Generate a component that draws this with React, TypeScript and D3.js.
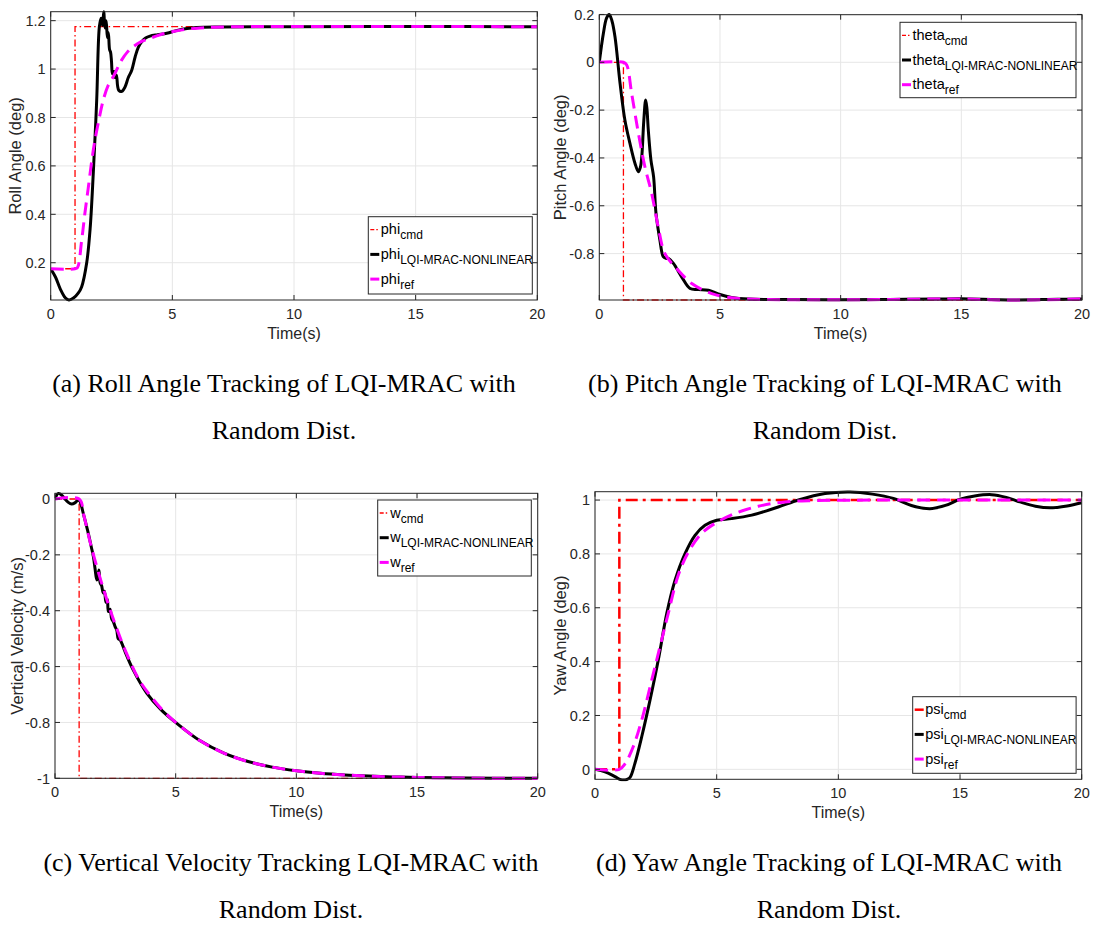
import React from 'react';
import * as d3 from 'd3';

type Pt = [number, number];

// time axis shared by all four plots
const timeTicks = [0, 5, 10, 15, 20];

// (a) roll
const rollTicks = [0.2, 0.4, 0.6, 0.8, 1, 1.2];
const rollCmd: Pt[] = [[0, 0.175], [1, 0.175], [1, 1.175], [20, 1.175]];
const rollAct: Pt[] = [
  [0, 0.175], [0.2, 0.14], [0.4, 0.09], [0.6, 0.055], [0.75, 0.046], [0.95, 0.055], [1.13, 0.074],
  [1.27, 0.1], [1.48, 0.2], [1.62, 0.34], [1.75, 0.57], [1.89, 0.87], [2.0, 1.175], [2.07, 1.21],
  [2.13, 1.18], [2.18, 1.237], [2.23, 1.17], [2.28, 1.2], [2.33, 1.13], [2.37, 1.15], [2.42, 1.08],
  [2.46, 1.07], [2.5, 1.03], [2.54, 0.98], [2.6, 0.99], [2.65, 0.965], [2.7, 0.975], [2.75, 0.93],
  [2.8, 0.912], [2.92, 0.908], [3.05, 0.925], [3.19, 0.965], [3.33, 0.995], [3.47, 1.05],
  [3.6, 1.09], [3.74, 1.113], [3.9, 1.128], [4.08, 1.136], [4.4, 1.142], [4.77, 1.148],
  [5.2, 1.16], [5.6, 1.168], [6.0, 1.172], [7, 1.174], [10, 1.175], [15, 1.176], [20, 1.175],
];
const rollRef: Pt[] = [
  [0, 0.175], [1, 0.175], [1.1, 0.18], [1.27, 0.29], [1.4, 0.4], [1.55, 0.514], [1.7, 0.63],
  [1.82, 0.707], [2.0, 0.8], [2.16, 0.872], [2.35, 0.93], [2.57, 0.968], [2.75, 1.005],
  [2.92, 1.038], [3.15, 1.07], [3.4, 1.093], [3.7, 1.112], [4.08, 1.127], [4.5, 1.142],
  [5.04, 1.155], [5.6, 1.165], [6.14, 1.17], [7, 1.174], [20, 1.175],
];

// (b) pitch
const pitchTicks = [-0.8, -0.6, -0.4, -0.2, 0, 0.2];
const pitchCmd: Pt[] = [[0, 0], [1, 0], [1, -0.994], [20, -0.994]];
const pitchAct: Pt[] = [
  [0, 0], [0.17, 0.121], [0.3, 0.185], [0.41, 0.2], [0.52, 0.175], [0.65, 0.107], [0.86, -0.088],
  [1.06, -0.241], [1.27, -0.339], [1.48, -0.423], [1.62, -0.458], [1.7, -0.44], [1.76, -0.395],
  [1.84, -0.25], [1.92, -0.158], [1.97, -0.19], [2.03, -0.283], [2.14, -0.409], [2.25, -0.479],
  [2.35, -0.632], [2.51, -0.743], [2.65, -0.813], [2.76, -0.82], [2.86, -0.82], [3.07, -0.841],
  [3.41, -0.897], [3.76, -0.946], [4.1, -0.95], [4.52, -0.953], [4.93, -0.969], [5.48, -0.983],
  [6.2, -0.99], [8, -0.992], [10, -0.993], [12, -0.992], [14, -0.99], [15, -0.989], [17, -0.994],
  [19, -0.991], [20, -0.99],
];
const pitchRef: Pt[] = [
  [0, 0], [1, 0], [1.13, -0.01], [1.34, -0.13], [1.62, -0.297], [1.89, -0.437], [2.17, -0.548],
  [2.44, -0.688], [2.72, -0.8], [3.2, -0.862], [3.83, -0.925], [4.66, -0.967], [5.48, -0.985],
  [6.5, -0.991], [10, -0.993], [15, -0.99], [17, -0.994], [20, -0.99],
];

// (c) vertical velocity
const velTicks = [-1, -0.8, -0.6, -0.4, -0.2, 0];
const velCmd: Pt[] = [[0, 0], [1, 0], [1, -1], [20, -1]];
const velAct: Pt[] = [
  [0, 0], [0.14, 0.02], [0.3, 0.012], [0.41, 0.0], [0.55, -0.012], [0.69, -0.018], [0.82, -0.014],
  [0.92, -0.006], [1.0, -0.003], [1.08, -0.02], [1.17, -0.051], [1.38, -0.123], [1.5, -0.17],
  [1.59, -0.206], [1.66, -0.25], [1.73, -0.29], [1.77, -0.28], [1.82, -0.254], [1.87, -0.3],
  [1.93, -0.31], [2.0, -0.337], [2.05, -0.33], [2.11, -0.37], [2.17, -0.36], [2.21, -0.403],
  [2.28, -0.395], [2.35, -0.43], [2.42, -0.44], [2.49, -0.457], [2.56, -0.47], [2.62, -0.5],
  [2.7, -0.505], [2.76, -0.515], [2.83, -0.53], [2.9, -0.546], [3.24, -0.612], [3.8, -0.695],
  [4.4, -0.755], [5, -0.8], [6, -0.865], [7, -0.91], [8, -0.94], [9, -0.96], [10, -0.973],
  [11, -0.982], [12, -0.988], [13, -0.992], [14, -0.995], [15, -0.997], [17, -0.999], [20, -1],
];
const velRef: Pt[] = [
  [0, 0], [1, 0], [1.2, -0.06], [1.5, -0.17], [2, -0.32], [2.5, -0.45], [3, -0.56], [3.5, -0.65],
  [4, -0.71], [4.5, -0.76], [5, -0.8], [6, -0.865], [7, -0.91], [8, -0.94], [9, -0.96],
  [10, -0.973], [11, -0.982], [12, -0.988], [13, -0.992], [14, -0.995], [15, -0.997],
  [17, -0.999], [20, -1],
];

// (d) yaw
const yawTicks = [0, 0.2, 0.4, 0.6, 0.8, 1];
const yawCmd: Pt[] = [[0, 0], [1, 0], [1, 1], [20, 1]];
const yawAct: Pt[] = [
  [0, 0], [0.41, -0.009], [0.82, -0.027], [1.05, -0.038], [1.19, -0.04], [1.32, -0.037],
  [1.44, -0.03], [1.64, 0.022], [1.92, 0.121], [2.26, 0.257], [2.6, 0.406], [2.95, 0.579],
  [3.29, 0.702], [3.7, 0.801], [4.11, 0.869], [4.52, 0.906], [5.0, 0.925], [5.62, 0.931],
  [6.44, 0.944], [7.53, 0.974], [8.36, 1.0], [9.45, 1.024], [10.48, 1.03], [11.4, 1.022],
  [12.26, 1.006], [13.0, 0.98], [13.76, 0.968], [14.4, 0.98], [15.0, 1.003], [15.6, 1.015],
  [16.3, 1.02], [16.9, 1.01], [17.46, 0.993], [18.1, 0.977], [18.7, 0.971], [19.4, 0.978], [20, 0.99],
];
const yawRef: Pt[] = [
  [0, 0], [1, 0], [1.23, 0.02], [1.57, 0.084], [1.92, 0.183], [2.33, 0.331], [2.67, 0.455],
  [3.01, 0.579], [3.42, 0.721], [3.84, 0.807], [4.38, 0.876], [4.93, 0.913], [5.75, 0.95],
  [6.71, 0.977], [7.81, 0.993], [9, 0.998], [12, 1.0], [20, 1.0],
];

const AXIS = '#262626';
const GRID = '#e6e6e6';
const SANS = 'Liberation Sans, Arial, sans-serif';
const SERIF = 'Liberation Serif, Times New Roman, serif';

const panels = [
  {
    id: 'a', box: { l: 50.7, t: 11.7, r: 537.3, b: 300 }, yDomain: [0.046, 1.237], yTicks: rollTicks,
    yTitle: 'Roll Angle (deg)', yTitleX: 15, sym: 'phi', cmd: rollCmd, act: rollAct, ref: rollRef,
    legend: { x: 368.3, y: 216.7, w: 164, h: 77.3 }, cmdWidth: 1.3, cmdDash: '7,3,1.5,3',
    caption: '(a) Roll Angle Tracking of LQI-MRAC with', capX: 284, capY: 392,
  },
  {
    id: 'b', box: { l: 599.3, t: 14.7, r: 1082, b: 300 }, yDomain: [-0.994, 0.199], yTicks: pitchTicks,
    yTitle: 'Pitch Angle (deg)', yTitleX: 560.7, sym: 'theta', cmd: pitchCmd, act: pitchAct, ref: pitchRef,
    legend: { x: 900, y: 22.3, w: 176, h: 75.4 }, cmdWidth: 1.3, cmdDash: '7,3,1.5,3',
    caption: '(b) Pitch Angle Tracking of LQI-MRAC with', capX: 825, capY: 392,
  },
  {
    id: 'c', box: { l: 55, t: 493.3, r: 537.7, b: 778.3 }, yDomain: [-1, 0.0204], yTicks: velTicks,
    yTitle: 'Vertical Velocity (m/s)', yTitleX: 17, sym: 'w', cmd: velCmd, act: velAct, ref: velRef,
    legend: { x: 377.7, y: 500, w: 153.6, h: 76 }, cmdWidth: 1.3, cmdDash: '7,3,1.5,3',
    caption: '(c) Vertical Velocity Tracking LQI-MRAC with', capX: 291, capY: 871,
  },
  {
    id: 'd', box: { l: 595, t: 491.7, r: 1081.7, b: 779.3 }, yDomain: [-0.037, 1.031], yTicks: yawTicks,
    yTitle: 'Yaw Angle (deg)', yTitleX: 560, sym: 'psi', cmd: yawCmd, act: yawAct, ref: yawRef,
    legend: { x: 912.7, y: 696.7, w: 163.4, h: 76.6 }, cmdWidth: 2.5, cmdDash: '12,5,3,5',
    caption: '(d) Yaw Angle Tracking of LQI-MRAC with', capX: 829, capY: 871,
  },
];

function Panel({ p }: { p: any }) {
  const { box } = p;
  const x = d3.scaleLinear().domain([0, 20]).range([box.l, box.r]);
  const y = d3.scaleLinear().domain(p.yDomain).range([box.b, box.t]);
  const smooth = d3.line<Pt>().x(d => x(d[0])).y(d => y(d[1])).curve(d3.curveCatmullRom.alpha(0.5));
  const straight = d3.line<Pt>().x(d => x(d[0])).y(d => y(d[1]));
  const tl = 5;
  const clipId = 'clip-' + p.id;
  const lg = p.legend;
  const rows = [
    { sub: 'cmd', color: '#ff0000', w: p.id === 'd' ? 2.5 : 1.3, dash: p.id === 'd' ? undefined : '4,2,1.5,2' },
    { sub: 'LQI-MRAC-NONLINEAR', color: '#000', w: 3, dash: undefined },
    { sub: 'ref', color: '#ff00ff', w: 3, dash: undefined },
  ];
  return (
    <g>
      <defs>
        <clipPath id={clipId}>
          <rect x={box.l} y={box.t - 2} width={box.r - box.l} height={box.b - box.t + 4} />
        </clipPath>
      </defs>
      <rect x={box.l} y={box.t} width={box.r - box.l} height={box.b - box.t} fill="#fff" />
      {/* grid */}
      {timeTicks.map(t => (
        <line key={'gx' + t} x1={x(t)} x2={x(t)} y1={box.t} y2={box.b} stroke={GRID} strokeWidth={1} />
      ))}
      {p.yTicks.map((v: number) => (
        <line key={'gy' + v} x1={box.l} x2={box.r} y1={y(v)} y2={y(v)} stroke={GRID} strokeWidth={1} />
      ))}
      {/* series */}
      <g clipPath={`url(#${clipId})`}>
        <path d={straight(p.cmd) || ''} fill="none" stroke="#ff0000" strokeWidth={p.cmdWidth} strokeDasharray={p.cmdDash} />
        <path d={smooth(p.act) || ''} fill="none" stroke="#000" strokeWidth={3} strokeLinejoin="round" />
        <path d={smooth(p.ref) || ''} fill="none" stroke="#ff00ff" strokeWidth={3} strokeDasharray="13,7" />
      </g>
      {/* box + ticks */}
      <rect x={box.l} y={box.t} width={box.r - box.l} height={box.b - box.t} fill="none" stroke={AXIS} strokeWidth={1} />
      {timeTicks.map(t => (
        <g key={'tx' + t}>
          <line x1={x(t)} x2={x(t)} y1={box.b} y2={box.b - tl} stroke={AXIS} />
          <line x1={x(t)} x2={x(t)} y1={box.t} y2={box.t + tl} stroke={AXIS} />
          <text x={x(t)} y={box.b + 18.5} textAnchor="middle" fontSize={14.5} fontFamily={SANS} fill={AXIS}>{t}</text>
        </g>
      ))}
      {p.yTicks.map((v: number) => (
        <g key={'ty' + v}>
          <line x1={box.l} x2={box.l + tl} y1={y(v)} y2={y(v)} stroke={AXIS} />
          <line x1={box.r} x2={box.r - tl} y1={y(v)} y2={y(v)} stroke={AXIS} />
          <text x={box.l - 5} y={y(v) + 5.2} textAnchor="end" fontSize={14.5} fontFamily={SANS} fill={AXIS}>{String(v)}</text>
        </g>
      ))}
      <text x={(box.l + box.r) / 2} y={box.b + 39} textAnchor="middle" fontSize={16} fontFamily={SANS} fill={AXIS}>Time(s)</text>
      <text transform={`translate(${p.yTitleX},${(box.t + box.b) / 2}) rotate(-90)`} dy="0.35em" textAnchor="middle"
        fontSize={16.5} fontFamily={SANS} fill={AXIS}>{p.yTitle}</text>
      {/* legend */}
      <rect x={lg.x} y={lg.y} width={lg.w} height={lg.h} fill="#fff" stroke={AXIS} strokeWidth={1} />
      {rows.map((r, i) => {
        const base = lg.y + 17.5 + i * 24.7;
        return (
          <g key={r.sub}>
            <line x1={lg.x + 2} x2={lg.x + 11} y1={base - 4.5} y2={base - 4.5} stroke={r.color} strokeWidth={r.w} strokeDasharray={r.dash} />
            <text x={lg.x + 12.5} y={base} fontSize={14.5} fontFamily={SANS} fill="#000">
              {p.sym}
              <tspan fontSize={12} dy={5}>{r.sub}</tspan>
            </text>
          </g>
        );
      })}
      {/* caption */}
      <text x={p.capX} y={p.capY} textAnchor="middle" fontSize={26} fontFamily={SERIF} fill="#000">{p.caption}</text>
      <text x={p.capX} y={p.capY + 47} textAnchor="middle" fontSize={26} fontFamily={SERIF} fill="#000">Random Dist.</text>
    </g>
  );
}

export default function App() {
  return (
    <svg width={1094} height={927} style={{ position: 'absolute', left: 0, top: 0, background: '#fff' }}>
      <rect x={0} y={0} width={1094} height={927} fill="#fff" />
      {panels.map(p => <Panel key={p.id} p={p} />)}
    </svg>
  );
}
